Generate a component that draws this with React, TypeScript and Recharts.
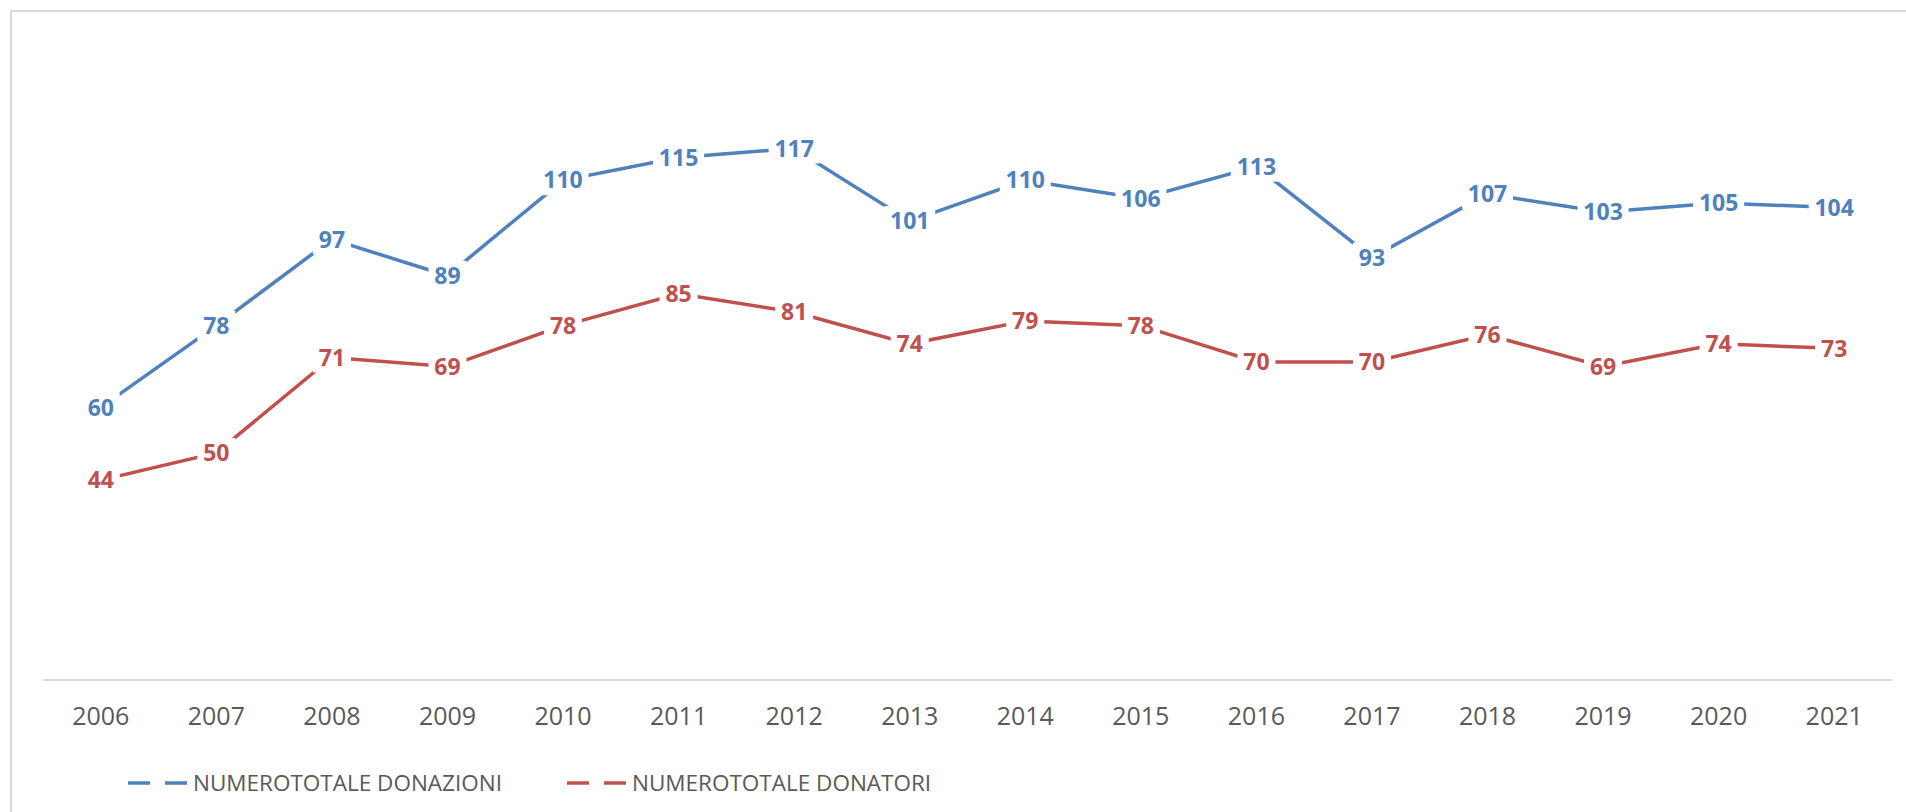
import React from 'react';
import { LineChart, Line, XAxis, YAxis, LabelList, Legend } from 'recharts';

const years = ['2006', '2007', '2008', '2009', '2010', '2011', '2012', '2013', '2014', '2015', '2016', '2017', '2018', '2019', '2020', '2021'];
const donazioni = [60, 78, 97, 89, 110, 115, 117, 101, 110, 106, 113, 93, 107, 103, 105, 104];
const donatori = [44, 50, 71, 69, 78, 85, 81, 74, 79, 78, 70, 70, 76, 69, 74, 73];
const seriesNames = ['NUMEROTOTALE DONAZIONI', 'NUMEROTOTALE DONATORI'];

const BLUE = '#4f81bd';
const RED = '#c0504d';
const FONT = '"Open Sans", "DejaVu Sans", sans-serif';

const data = years.map((y, i) => ({ year: y, donazioni: donazioni[i], donatori: donatori[i] }));

function makeLabel(color: string) {
  return (props: any) => {
    const x = props.x ?? props.viewBox?.x;
    const y = props.y ?? props.viewBox?.y;
    const s = String(props.value);
    const w = s.length * 13 + 12;
    const h = 30;
    return (
      <g>
        <rect x={x - w / 2} y={y - h / 2} width={w} height={h} fill="#ffffff" />
        <text x={x} y={y} dy={8.2} textAnchor="middle" fill={color} fontFamily={FONT} fontWeight={700} fontSize={23}>
          {s}
        </text>
      </g>
    );
  };
}

const LegendContent = () => {
  const items = [
    { name: seriesNames[0], color: BLUE, x: 128 },
    { name: seriesNames[1], color: RED, x: 567 },
  ];
  return (
    <svg width={1906} height={50} style={{ display: 'block' }}>
      {items.map((it) => (
        <g key={it.name}>
          <line x1={it.x} y1={23} x2={it.x + 22} y2={23} stroke={it.color} strokeWidth={3.5} />
          <line x1={it.x + 37} y1={23} x2={it.x + 59} y2={23} stroke={it.color} strokeWidth={3.5} />
          <text x={it.x + 65} y={31} fill="#595959" fontFamily={FONT} fontSize={22.5}>
            {it.name}
          </text>
        </g>
      ))}
    </svg>
  );
};

export default function App() {
  return (
    <div style={{ position: 'absolute', left: 0, top: 0, width: 1906, height: 812, overflow: 'hidden', background: '#fff' }}>
      <div
        style={{
          position: 'absolute',
          left: 10,
          top: 10,
          width: 1960,
          height: 900,
          border: '2px solid #d9d9d9',
          boxSizing: 'border-box',
        }}
      />
      <div style={{ position: 'absolute', left: 0, top: 0 }}>
        <LineChart width={1906} height={812} data={data} margin={{ top: 44, right: 14, bottom: 72, left: 43 }}>
          <XAxis
            dataKey="year"
            height={60}
            padding={{ left: 57.8, right: 57.8 }}
            axisLine={{ stroke: '#d9d9d9', strokeWidth: 2 }}
            tickLine={false}
            tickSize={0}
            tickMargin={27}
            tick={{ fill: '#595959', fontSize: 25, fontFamily: FONT }}
            interval={0}
          />
          <YAxis hide domain={[0, 140]} />
          <Legend
            layout="horizontal"
            verticalAlign="middle"
            align="center"
            content={<LegendContent />}
            wrapperStyle={{ position: 'absolute', left: 0, top: 760, width: 1906, height: 50 }}
          />
          <Line
            type="linear"
            dataKey="donazioni"
            name={seriesNames[0]}
            stroke={BLUE}
            strokeWidth={3.5}
            dot={false}
            activeDot={false}
            isAnimationActive={false}
          >
            <LabelList dataKey="donazioni" content={makeLabel(BLUE)} />
          </Line>
          <Line
            type="linear"
            dataKey="donatori"
            name={seriesNames[1]}
            stroke={RED}
            strokeWidth={3.5}
            dot={false}
            activeDot={false}
            isAnimationActive={false}
          >
            <LabelList dataKey="donatori" content={makeLabel(RED)} />
          </Line>
        </LineChart>
      </div>
    </div>
  );
}
